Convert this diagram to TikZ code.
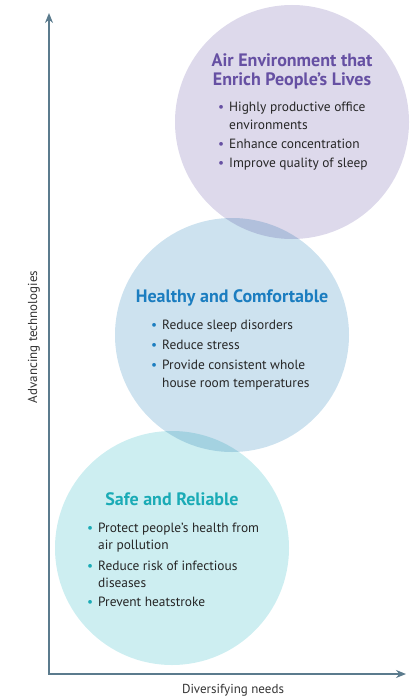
\documentclass[tikz,border=0pt]{standalone}
\usepackage{fontspec}
\setmainfont{PT Sans}
\usetikzlibrary{arrows.meta,positioning}

\definecolor{airfill}{HTML}{DDD9EB}
\definecolor{airtext}{HTML}{6650A3}
\definecolor{healthfill}{HTML}{CDE2EF}
\definecolor{healthtext}{HTML}{1B7DC0}
\definecolor{safefill}{HTML}{CDEEF1}
\definecolor{safetext}{HTML}{1AABB6}
\definecolor{axisline}{HTML}{5B7B8D}

% coloured bullet for the point lists
\newcommand{\dotc}[1]{\textcolor{#1}{\textbullet}}

\tikzset{
  bubble/.style={circle, inner sep=0pt, minimum size=234pt, fill=#1},
  heading/.style={text=#1, font=\fontsize{18}{19}\selectfont\bfseries, align=center, inner sep=0pt, anchor=base},
  points/.style={text=black!85, font=\fontsize{13.4}{18}\selectfont, inner sep=0pt, anchor=base west},
  axislabel/.style={text=black!80, font=\fontsize{13}{15}\selectfont, inner sep=0pt},
}

\begin{document}
\begin{tikzpicture}[x=1pt, y=-1pt]
  \useasboundingbox (0,0) rectangle (412,698);

  % circles
  \begin{scope}[blend group=multiply]
    \node[bubble=airfill] (air) at (292,122) {};
    \node[bubble=healthfill] (health) at (232,335) {};
    \node[bubble=safefill] (safe) at (172,548) {};
  \end{scope}

  % axes
  \coordinate (origin) at (49,674);
  \coordinate (ytip) at (49,13);
  \coordinate (xtip) at (406,674);
  \draw[axisline, line width=1.4pt, {Stealth[length=10pt,width=8pt]}-{Stealth[length=10pt,width=8pt]}]
    (ytip) -- (origin) -- (xtip);
  \node[axislabel, rotate=90] (ylab) at (34,337) {Advancing technologies};
  \node[axislabel] (xlab) at (233,690) {Diversifying needs};

  % top circle
  \node[heading=airtext] (airhead) at (292,86) {Air Environment that\\Enrich People’s Lives};
  \node[points] (airlist) at (218,111) {%
    \begin{tabular}[t]{@{}p{11pt}@{}l@{}}
      \dotc{airtext} & Highly productive office\\
                     & environments\\[1.5pt]
      \dotc{airtext} & Enhance concentration\\[1pt]
      \dotc{airtext} & Improve quality of sleep
    \end{tabular}};

  % middle circle
  \node[heading=healthtext] (healthhead) at (232,302) {Healthy and Comfortable};
  \node[points] (healthlist) at (151,329) {%
    \begin{tabular}[t]{@{}p{11pt}@{}l@{}}
      \dotc{healthtext} & Reduce sleep disorders\\[2pt]
      \dotc{healthtext} & Reduce stress\\[2pt]
      \dotc{healthtext} & Provide consistent whole\\
                        & house room temperatures
    \end{tabular}};

  % bottom circle
  \node[heading=safetext] (safehead) at (172,505) {Safe and Reliable};
  \node[points] (safelist) at (87,532) {%
    \begin{tabular}[t]{@{}p{11pt}@{}l@{}}
      \dotc{safetext} & Protect people’s health from\\[-1pt]
                      & air pollution\\[3pt]
      \dotc{safetext} & Reduce risk of infectious\\[-1pt]
                      & diseases\\[1pt]
      \dotc{safetext} & Prevent heatstroke
    \end{tabular}};
\end{tikzpicture}
\end{document}
